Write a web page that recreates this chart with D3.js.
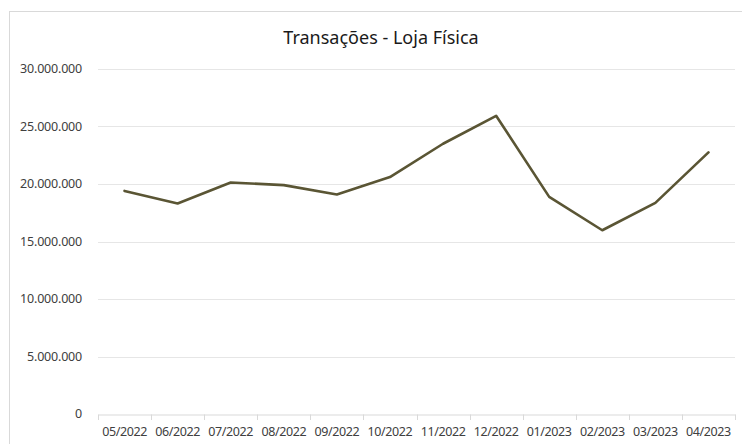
<!DOCTYPE html>
<html><head><meta charset="utf-8">
<script src="https://cdn.jsdelivr.net/npm/d3@7"></script>
<style>body{margin:0;background:#fff}svg{display:block}</style>
</head><body>
<svg id="c" width="742" height="444"></svg>
<script>
const title = "Transações - Loja Física";
const categories = ["05/2022","06/2022","07/2022","08/2022","09/2022","10/2022","11/2022","12/2022","01/2023","02/2023","03/2023","04/2023"];
const values = [19400000,18300000,20130000,19900000,19090000,20600000,23500000,25930000,18880000,15980000,18360000,22750000];
const yTicks = [0,5000000,10000000,15000000,20000000,25000000,30000000];

(function(){
const svg = d3.select("#c");
const font = "'Noto Sans', 'Open Sans', sans-serif";

svg.append("rect").attr("x",9.5).attr("y",11.5).attr("width",760).attr("height",460)
  .attr("fill","#fff").attr("stroke","#d9d9d9").attr("stroke-width",1);

const pLeft = 98, pRight = 735, pTop = 69, pBottom = 414;
const x = d3.scaleBand().domain(categories).range([pLeft,pRight]).padding(0);
const y = d3.scaleLinear().domain([0,30000000]).range([pBottom,pTop]);

const fmt = v => v===0 ? "0" : d3.format(",")(v).replace(/,/g,".");

svg.append("g").selectAll("line").data(yTicks.filter(d=>d>0)).join("line")
  .attr("x1",pLeft).attr("x2",pRight)
  .attr("y1",d=>Math.round(y(d))+0.5).attr("y2",d=>Math.round(y(d))+0.5)
  .attr("stroke","#e6e6e6").attr("stroke-width",1);

svg.append("g").selectAll("text").data(yTicks).join("text")
  .attr("x",82).attr("y",d=>y(d)).attr("dy","0.35em")
  .attr("text-anchor","end").attr("font-family",font).attr("font-size",12.5)
  .attr("letter-spacing",-0.2)
  .attr("fill","#404040").text(fmt);

const xAxis = d3.axisBottom(x).tickSize(0).tickFormat(d=>d);
const gx = svg.append("g").attr("transform",`translate(0,${Math.round(pBottom)+0.5})`).call(xAxis);
gx.select(".domain").attr("stroke","#d9d9d9");
gx.selectAll("text").attr("font-family",font).attr("font-size",12.5).attr("letter-spacing",-0.4)
  .attr("fill","#404040").attr("dy",null).attr("y",21);
const bounds = d3.range(categories.length+1).map(i=> i<categories.length ? x(categories[i]) : pRight);
svg.append("g").selectAll("line").data(bounds).join("line")
  .attr("x1",d=>Math.round(d)+0.5).attr("x2",d=>Math.round(d)+0.5)
  .attr("y1",Math.round(pBottom)+0.5).attr("y2",Math.round(pBottom)+6)
  .attr("stroke","#d9d9d9");

const line = d3.line().x((d,i)=>x(categories[i])+x.bandwidth()/2).y(d=>y(d));
svg.append("path").datum(values).attr("d",line)
  .attr("fill","none").attr("stroke","#5a5534").attr("stroke-width",2.6)
  .attr("stroke-linejoin","round").attr("stroke-linecap","round");

svg.append("text").attr("x",381).attr("y",44).attr("text-anchor","middle")
  .attr("font-family",font).attr("font-size",18).attr("font-weight",400)
  .attr("fill","#1a1a1a").text(title);
})();
</script>
</body></html>
